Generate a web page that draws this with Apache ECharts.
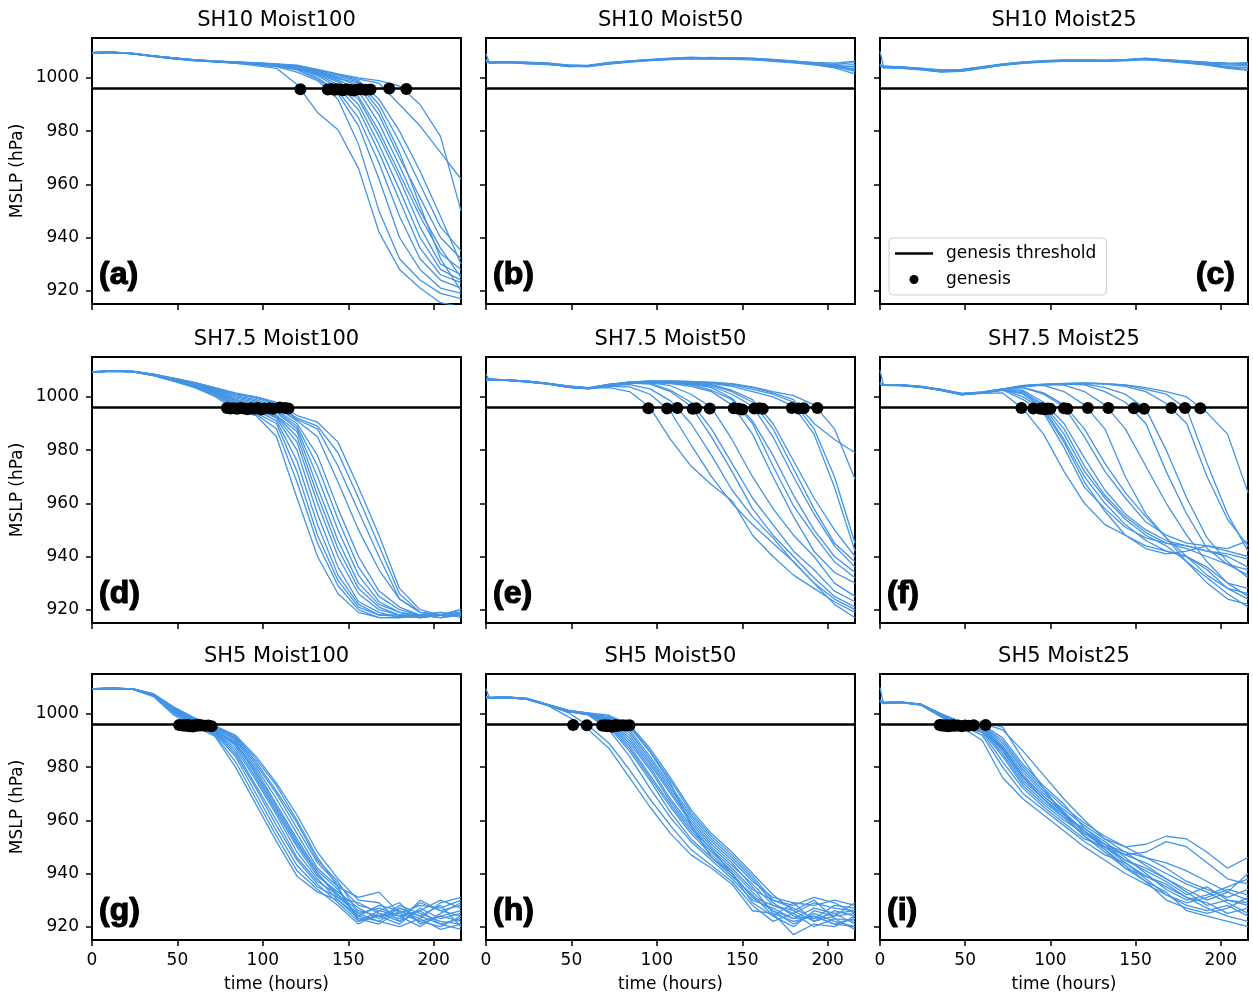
<!DOCTYPE html>
<html>
<head>
<meta charset="utf-8">
<title>MSLP ensemble</title>
<script src="https://cdn.jsdelivr.net/npm/echarts@6/dist/echarts.min.js"></script>
<style>
  html, body { margin: 0; padding: 0; background: #fff; }
  #main { width: 1253px; height: 996px; }
</style>
</head>
<body>
<div id="main"></div>
<script>
// time axis (hours) shared by every ensemble member
const TIME = [0, 2, 12, 24, 36, 48, 60, 72, 84, 96, 108, 120, 132, 144, 156, 168, 180, 192, 204, 216]
const THRESHOLD = 996
const X_TICKS = [0, 50, 100, 150, 200]
const Y_TICKS = [920, 940, 960, 980, 1000]
const TITLES = ['SH10 Moist100', 'SH10 Moist50', 'SH10 Moist25', 'SH7.5 Moist100', 'SH7.5 Moist50', 'SH7.5 Moist25', 'SH5 Moist100', 'SH5 Moist50', 'SH5 Moist25']
const TAGS = ['(a)', '(b)', '(c)', '(d)', '(e)', '(f)', '(g)', '(h)', '(i)']

const LINES_A = [
  [1009.3, 1009.5, 1009.6, 1009.0, 1008.1, 1007.2, 1006.4, 1006.0, 1005.5, 1004.6, 1003.6, 997.5, 987.0, 980.5, 966.0, 942.0, 928.0, 921.0, 915.5, 914.0],
  [1009.4, 1009.6, 1009.7, 1009.1, 1008.2, 1007.4, 1006.6, 1006.1, 1005.7, 1005.0, 1004.2, 1002.2, 999.0, 992.0, 975.0, 950.0, 932.0, 924.0, 919.0, 917.0],
  [1009.2, 1009.4, 1009.5, 1009.2, 1008.3, 1007.5, 1006.8, 1006.3, 1005.9, 1005.2, 1004.5, 1003.0, 999.5, 994.0, 982.0, 962.0, 940.0, 928.0, 921.0, 919.0],
  [1009.3, 1009.5, 1009.7, 1009.0, 1008.0, 1007.3, 1006.5, 1006.0, 1005.6, 1005.0, 1004.3, 1003.2, 1000.0, 995.0, 985.0, 968.0, 948.0, 932.0, 924.0, 921.0],
  [1009.4, 1009.6, 1009.6, 1009.1, 1008.2, 1007.4, 1006.7, 1006.2, 1005.8, 1005.1, 1004.6, 1003.6, 1000.8, 996.5, 988.0, 972.0, 954.0, 936.0, 926.0, 923.0],
  [1009.3, 1009.4, 1009.5, 1009.0, 1008.1, 1007.2, 1006.6, 1006.1, 1005.7, 1005.3, 1004.8, 1003.8, 1001.2, 997.5, 990.0, 975.0, 958.0, 940.0, 928.0, 924.0],
  [1009.2, 1009.5, 1009.7, 1009.2, 1008.3, 1007.5, 1006.8, 1006.3, 1005.9, 1005.2, 1004.5, 1003.5, 1001.5, 998.5, 992.0, 978.0, 962.0, 944.0, 930.0, 926.0],
  [1009.4, 1009.6, 1009.6, 1009.1, 1008.2, 1007.4, 1006.7, 1006.2, 1005.8, 1005.2, 1004.7, 1004.0, 1001.8, 999.0, 993.0, 980.0, 964.0, 948.0, 934.0, 928.0],
  [1009.3, 1009.5, 1009.6, 1009.2, 1008.2, 1007.3, 1006.6, 1006.1, 1005.7, 1005.4, 1004.9, 1004.1, 1002.0, 999.5, 995.0, 983.0, 967.0, 950.0, 936.0, 925.0],
  [1009.3, 1009.4, 1009.7, 1009.1, 1008.3, 1007.5, 1006.9, 1006.4, 1006.0, 1005.5, 1005.0, 1004.2, 1002.3, 1000.0, 997.0, 986.0, 970.0, 955.0, 940.0, 932.0],
  [1009.4, 1009.6, 1009.6, 1009.2, 1008.1, 1007.4, 1006.7, 1006.2, 1005.9, 1005.5, 1005.1, 1004.3, 1002.5, 1000.5, 998.5, 990.0, 976.0, 960.0, 944.0, 935.0],
  [1009.2, 1009.4, 1009.5, 1009.0, 1008.2, 1007.3, 1006.6, 1006.1, 1005.8, 1005.3, 1004.9, 1004.5, 1002.8, 1001.0, 999.0, 992.0, 980.0, 965.0, 948.0, 930.0],
  [1009.3, 1009.5, 1009.7, 1009.2, 1008.3, 1007.5, 1006.8, 1006.3, 1006.0, 1005.6, 1005.2, 1004.6, 1003.0, 1001.2, 999.5, 998.0, 990.0, 982.0, 972.0, 962.0],
  [1009.4, 1009.5, 1009.6, 1009.1, 1008.2, 1007.4, 1006.7, 1006.3, 1005.9, 1005.7, 1005.3, 1004.8, 1003.2, 1001.5, 1000.0, 999.0, 997.0, 990.0, 978.0, 950.0],
  [1009.3, 1009.4, 1009.6, 1009.1, 1008.1, 1007.3, 1006.6, 1006.2, 1005.8, 1005.3, 1004.8, 1004.0, 1002.2, 999.8, 998.0, 988.0, 972.0, 952.0, 932.0, 920.0]
]
const GENESIS_A = [[122, 995.7], [138, 995.6], [140, 995.8], [142, 995.5], [143, 995.7], [145, 995.6], [147, 995.4], [149, 995.7], [151, 995.5], [153, 995.3], [155, 995.6], [157, 995.7], [160, 995.5], [163, 995.6], [174, 996.0], [184, 995.8]]

const LINES_B = [
  [1009.0, 1005.8, 1006.0, 1005.9, 1005.5, 1004.9, 1004.6, 1005.6, 1006.3, 1006.9, 1007.3, 1007.6, 1007.5, 1007.3, 1007.1, 1006.7, 1006.2, 1005.8, 1005.5, 1006.3],
  [1006.5, 1005.5, 1005.7, 1005.6, 1005.2, 1004.5, 1004.3, 1005.3, 1006.0, 1006.6, 1007.0, 1007.3, 1007.2, 1007.6, 1007.3, 1007.0, 1006.4, 1005.6, 1005.0, 1005.8],
  [1006.0, 1005.9, 1005.9, 1005.4, 1005.3, 1004.2, 1004.5, 1005.5, 1006.2, 1006.7, 1007.1, 1007.5, 1007.7, 1007.4, 1007.2, 1006.5, 1005.9, 1005.2, 1004.6, 1005.0],
  [1007.0, 1005.6, 1006.1, 1005.7, 1005.6, 1004.7, 1004.8, 1005.8, 1006.4, 1007.0, 1007.4, 1007.8, 1007.4, 1007.1, 1007.0, 1006.8, 1006.1, 1005.4, 1004.3, 1004.2],
  [1006.2, 1005.7, 1005.8, 1005.3, 1005.0, 1004.4, 1004.2, 1005.2, 1005.9, 1006.5, 1006.9, 1007.2, 1007.1, 1007.2, 1006.9, 1006.2, 1005.7, 1004.9, 1004.0, 1003.5],
  [1006.8, 1005.9, 1006.0, 1005.6, 1005.4, 1004.6, 1004.7, 1005.4, 1006.1, 1006.8, 1007.2, 1007.4, 1007.6, 1007.5, 1007.4, 1006.9, 1006.3, 1005.5, 1004.2, 1002.5],
  [1006.4, 1005.8, 1005.9, 1005.5, 1005.1, 1004.3, 1004.6, 1005.7, 1006.3, 1006.8, 1007.1, 1007.5, 1007.3, 1007.0, 1006.8, 1006.4, 1005.8, 1005.0, 1003.8, 1001.5],
  [1006.6, 1005.7, 1006.0, 1005.8, 1005.3, 1004.8, 1004.4, 1005.4, 1006.0, 1006.6, 1007.2, 1007.6, 1007.4, 1007.3, 1007.0, 1006.6, 1006.0, 1005.3, 1004.5, 1003.0]
]
const GENESIS_B = []

const LINES_C = [
  [1010.0, 1004.5, 1004.0, 1003.4, 1002.6, 1002.8, 1004.0, 1005.2, 1005.9, 1006.4, 1006.7, 1006.6, 1006.5, 1006.8, 1007.2, 1006.6, 1006.2, 1005.8, 1005.6, 1005.5],
  [1004.8, 1003.8, 1003.6, 1003.0, 1002.2, 1002.5, 1003.6, 1004.8, 1005.6, 1006.0, 1006.2, 1006.3, 1006.2, 1006.4, 1006.9, 1006.3, 1005.9, 1005.4, 1004.8, 1004.6],
  [1005.0, 1004.2, 1004.2, 1003.6, 1002.9, 1003.1, 1004.2, 1005.3, 1006.0, 1006.5, 1006.8, 1006.8, 1006.7, 1006.9, 1007.4, 1006.8, 1006.3, 1005.6, 1005.2, 1005.8],
  [1004.5, 1004.0, 1003.9, 1003.2, 1002.4, 1002.7, 1003.8, 1004.9, 1005.7, 1006.1, 1006.4, 1006.5, 1006.3, 1006.6, 1007.0, 1006.5, 1005.7, 1005.0, 1004.2, 1003.8],
  [1004.9, 1004.4, 1004.1, 1003.5, 1002.8, 1003.0, 1003.9, 1005.0, 1005.8, 1006.3, 1006.6, 1006.7, 1006.6, 1006.9, 1007.3, 1006.7, 1006.0, 1005.2, 1004.0, 1003.0],
  [1005.2, 1003.9, 1003.8, 1003.3, 1002.5, 1002.6, 1003.7, 1004.7, 1005.5, 1005.9, 1006.3, 1006.4, 1006.4, 1006.7, 1007.1, 1006.4, 1005.8, 1004.9, 1003.9, 1004.0],
  [1004.6, 1004.3, 1004.0, 1003.7, 1003.0, 1003.2, 1004.1, 1005.1, 1005.8, 1006.2, 1006.5, 1006.6, 1006.5, 1006.8, 1007.1, 1006.9, 1006.4, 1005.9, 1005.3, 1005.0],
  [1004.7, 1004.1, 1003.7, 1003.1, 1002.3, 1002.9, 1003.9, 1004.9, 1005.7, 1006.2, 1006.6, 1006.6, 1006.6, 1006.7, 1007.0, 1006.2, 1005.6, 1004.8, 1003.6, 1002.8]
]
const GENESIS_C = []

const LINES_D = [
  [1009.3, 1009.4, 1009.7, 1009.4, 1008.0, 1005.8, 1003.5, 1000.2, 995.0, 993.0, 985.0, 962.0, 940.0, 926.0, 919.0, 917.0, 917.0, 917.5, 918.0, 918.5],
  [1009.4, 1009.5, 1009.8, 1009.5, 1008.1, 1006.0, 1003.8, 1000.6, 996.0, 993.5, 988.0, 968.0, 945.0, 929.0, 920.0, 917.0, 917.0, 918.0, 917.0, 919.0],
  [1009.3, 1009.4, 1009.7, 1009.5, 1008.2, 1006.1, 1004.0, 1001.0, 996.5, 994.0, 990.0, 972.0, 948.0, 931.0, 921.0, 918.0, 917.5, 917.0, 918.0, 920.0],
  [1009.2, 1009.3, 1009.6, 1009.4, 1008.0, 1005.9, 1003.9, 1001.2, 997.0, 995.0, 991.0, 976.0, 952.0, 933.0, 922.0, 918.0, 918.0, 917.0, 918.0, 918.0],
  [1009.4, 1009.5, 1009.7, 1009.5, 1008.3, 1006.3, 1004.2, 1001.5, 997.5, 995.5, 992.0, 980.0, 956.0, 936.0, 923.0, 919.0, 917.0, 918.0, 919.0, 917.0],
  [1009.3, 1009.4, 1009.8, 1009.6, 1008.2, 1006.2, 1004.3, 1001.8, 998.0, 996.0, 992.5, 983.0, 960.0, 940.0, 926.0, 920.0, 918.0, 917.0, 918.0, 919.0],
  [1009.3, 1009.5, 1009.7, 1009.4, 1008.1, 1006.4, 1004.5, 1002.0, 998.5, 996.2, 993.0, 985.0, 963.0, 943.0, 928.0, 921.0, 918.0, 918.0, 917.0, 918.0],
  [1009.4, 1009.5, 1009.8, 1009.6, 1008.4, 1006.5, 1004.6, 1002.2, 999.0, 997.0, 993.0, 987.0, 966.0, 946.0, 930.0, 922.0, 919.0, 917.0, 918.0, 920.0],
  [1009.3, 1009.4, 1009.6, 1009.5, 1008.3, 1006.3, 1004.4, 1002.4, 999.0, 997.5, 994.0, 988.0, 970.0, 950.0, 933.0, 923.0, 919.0, 918.0, 919.0, 918.0],
  [1009.2, 1009.3, 1009.7, 1009.4, 1008.2, 1006.6, 1004.8, 1002.6, 999.5, 998.0, 994.5, 989.0, 974.0, 954.0, 936.0, 925.0, 920.0, 918.0, 918.0, 919.0],
  [1009.4, 1009.5, 1009.8, 1009.5, 1008.4, 1006.7, 1005.0, 1002.8, 1000.0, 998.5, 995.0, 990.0, 978.0, 958.0, 940.0, 927.0, 921.0, 918.0, 917.0, 918.0],
  [1009.3, 1009.4, 1009.7, 1009.6, 1008.5, 1006.8, 1005.1, 1003.0, 1000.5, 999.0, 996.0, 991.0, 985.0, 968.0, 950.0, 935.0, 924.0, 919.0, 918.0, 918.5],
  [1009.4, 1009.5, 1009.8, 1009.6, 1008.6, 1006.9, 1005.3, 1003.2, 1001.0, 999.5, 997.0, 991.5, 988.0, 974.0, 957.0, 940.0, 924.0, 919.0, 918.0, 919.0],
  [1009.3, 1009.4, 1009.7, 1009.5, 1008.5, 1007.0, 1005.4, 1003.4, 1001.0, 1000.0, 997.5, 992.0, 989.0, 979.0, 962.0, 944.0, 926.0, 919.0, 918.0, 920.0],
  [1009.4, 1009.5, 1009.8, 1009.7, 1008.6, 1007.1, 1005.5, 1003.5, 1001.5, 1000.0, 998.0, 993.0, 990.5, 983.0, 966.0, 948.0, 928.0, 920.0, 918.0, 919.0]
]
const GENESIS_D = [[79, 995.8], [81, 995.6], [83, 995.7], [85, 995.5], [87, 995.8], [89, 995.6], [91, 995.4], [93, 995.7], [95, 995.5], [97, 995.8], [99, 995.3], [101, 995.6], [104, 995.7], [106, 995.5], [110, 996.0], [113, 995.8], [115, 995.6]]

const LINES_E = [
  [1006.5, 1006.6, 1006.3, 1005.8, 1005.0, 1003.8, 1003.2, 1003.5, 1002.0, 996.0, 984.0, 974.0, 967.0, 961.0, 948.0, 940.0, 933.0, 928.0, 923.0, 919.0],
  [1008.5, 1006.4, 1006.2, 1005.6, 1004.8, 1003.6, 1003.0, 1004.0, 1003.8, 1001.0, 994.5, 982.0, 970.0, 960.0, 952.0, 945.0, 938.0, 930.0, 924.0, 920.0],
  [1006.8, 1006.7, 1006.4, 1005.9, 1005.1, 1004.0, 1003.4, 1004.5, 1004.6, 1003.0, 998.5, 990.0, 978.0, 965.0, 955.0, 947.0, 938.0, 930.0, 922.0, 917.0],
  [1006.4, 1006.5, 1006.2, 1005.7, 1004.9, 1003.7, 1003.1, 1004.6, 1005.2, 1004.8, 1002.0, 996.5, 985.0, 972.0, 958.0, 948.0, 940.0, 932.0, 925.0, 921.0],
  [1006.7, 1006.6, 1006.3, 1005.8, 1005.0, 1003.9, 1003.3, 1004.8, 1005.4, 1005.2, 1002.5, 998.0, 988.0, 975.0, 962.0, 952.0, 942.0, 935.0, 927.0, 923.0],
  [1006.5, 1006.5, 1006.4, 1005.9, 1005.1, 1003.8, 1003.2, 1004.3, 1005.0, 1005.4, 1004.2, 1001.0, 996.0, 984.0, 970.0, 958.0, 948.0, 940.0, 930.0, 925.0],
  [1006.6, 1006.6, 1006.3, 1005.7, 1004.9, 1003.7, 1003.1, 1004.2, 1005.1, 1005.5, 1005.0, 1004.0, 1002.0, 997.0, 986.0, 970.0, 955.0, 942.0, 934.0, 930.0],
  [1006.4, 1006.5, 1006.2, 1005.8, 1005.0, 1003.9, 1003.3, 1004.4, 1005.3, 1005.7, 1005.3, 1004.5, 1002.5, 999.0, 990.0, 974.0, 959.0, 948.0, 938.0, 932.0],
  [1006.7, 1006.7, 1006.4, 1005.9, 1005.1, 1004.0, 1003.4, 1004.6, 1005.5, 1005.8, 1005.5, 1004.8, 1003.5, 999.5, 991.0, 978.0, 963.0, 950.0, 940.0, 934.0],
  [1006.5, 1006.6, 1006.3, 1005.8, 1005.0, 1003.8, 1003.2, 1004.3, 1005.2, 1005.6, 1005.2, 1004.9, 1004.0, 1001.0, 996.5, 985.0, 970.0, 956.0, 944.0, 936.0],
  [1006.6, 1006.5, 1006.2, 1005.7, 1004.9, 1003.6, 1003.0, 1004.1, 1005.0, 1005.3, 1005.4, 1005.0, 1004.4, 1002.0, 998.0, 988.0, 973.0, 958.0, 945.0, 938.0],
  [1006.8, 1006.7, 1006.4, 1005.9, 1005.2, 1004.1, 1003.5, 1004.7, 1005.6, 1005.9, 1005.7, 1005.2, 1004.6, 1002.5, 999.0, 990.0, 976.0, 962.0, 950.0, 940.0],
  [1006.5, 1006.6, 1006.3, 1005.8, 1005.0, 1003.9, 1003.3, 1004.5, 1005.3, 1005.6, 1005.6, 1005.4, 1005.0, 1004.0, 1002.0, 1000.0, 996.5, 986.0, 966.0, 942.0],
  [1006.6, 1006.6, 1006.3, 1005.7, 1004.9, 1003.7, 1003.1, 1004.3, 1005.1, 1005.5, 1005.8, 1005.6, 1005.3, 1004.5, 1002.8, 1001.0, 998.0, 988.0, 970.0, 945.0],
  [1006.4, 1006.5, 1006.2, 1005.8, 1005.0, 1003.8, 1003.2, 1004.5, 1005.4, 1005.8, 1005.9, 1005.8, 1005.4, 1004.8, 1003.5, 1001.5, 999.0, 990.0, 984.0, 979.0],
  [1006.7, 1006.7, 1006.4, 1005.9, 1005.1, 1004.0, 1003.4, 1004.6, 1005.5, 1006.0, 1006.0, 1005.7, 1005.5, 1005.0, 1003.8, 1002.0, 1000.5, 997.0, 988.0, 969.0]
]
const GENESIS_E = [[95, 995.7], [106, 995.6], [112, 995.8], [121, 995.5], [123, 995.7], [131, 995.6], [145, 995.7], [148, 995.5], [150, 995.3], [157, 995.6], [160, 995.7], [162, 995.5], [179, 995.8], [183, 995.6], [186, 995.7], [194, 995.8]]

const LINES_F = [
  [1010.0, 1004.5, 1004.3, 1003.7, 1002.5, 1000.8, 1001.3, 1001.5, 995.5, 986.0, 972.0, 960.0, 952.0, 948.0, 944.0, 942.0, 940.0, 936.0, 930.0, 928.0],
  [1005.0, 1004.6, 1004.5, 1003.9, 1002.7, 1001.1, 1001.5, 1002.6, 999.0, 994.0, 981.0, 966.0, 958.0, 951.0, 947.0, 945.0, 944.0, 942.0, 941.0, 939.0],
  [1005.2, 1004.4, 1004.3, 1003.7, 1002.6, 1001.0, 1001.7, 1002.8, 1001.0, 995.5, 984.0, 970.0, 960.0, 952.0, 946.0, 942.0, 940.0, 935.0, 928.0, 924.0],
  [1004.8, 1004.5, 1004.4, 1003.8, 1002.4, 1000.9, 1001.4, 1002.5, 1001.5, 996.3, 986.0, 972.0, 962.0, 954.0, 948.0, 944.0, 938.0, 932.0, 926.0, 921.0],
  [1005.1, 1004.7, 1004.5, 1003.9, 1002.7, 1001.2, 1001.8, 1002.9, 1002.0, 997.0, 988.0, 974.0, 963.0, 955.0, 949.0, 945.0, 943.0, 940.0, 937.0, 933.0],
  [1004.9, 1004.3, 1004.2, 1003.6, 1002.5, 1000.8, 1001.6, 1002.7, 1002.5, 998.0, 990.0, 977.0, 965.0, 956.0, 950.0, 946.0, 944.0, 942.0, 940.0, 936.0],
  [1005.3, 1004.6, 1004.5, 1003.9, 1002.8, 1001.2, 1001.9, 1003.0, 1003.5, 1001.0, 996.3, 985.0, 972.0, 962.0, 953.0, 948.0, 945.0, 944.0, 942.0, 940.0],
  [1004.7, 1004.4, 1004.3, 1003.7, 1002.6, 1001.0, 1001.5, 1002.7, 1003.6, 1001.5, 997.0, 988.0, 975.0, 964.0, 955.0, 947.0, 940.0, 933.0, 928.0, 926.0],
  [1005.0, 1004.5, 1004.4, 1003.8, 1002.7, 1001.1, 1001.7, 1002.9, 1004.0, 1004.3, 1002.0, 997.0, 988.0, 970.0, 956.0, 947.0, 938.0, 930.0, 924.0, 922.0],
  [1005.1, 1004.6, 1004.5, 1003.9, 1002.6, 1000.9, 1001.6, 1002.8, 1004.1, 1004.6, 1004.4, 1002.0, 997.0, 988.0, 974.0, 960.0, 948.0, 938.0, 930.0, 925.0],
  [1004.9, 1004.4, 1004.3, 1003.7, 1002.5, 1001.0, 1001.5, 1002.6, 1003.9, 1004.5, 1004.8, 1004.5, 1002.0, 998.0, 990.0, 972.0, 956.0, 943.0, 937.0, 935.0],
  [1005.2, 1004.7, 1004.6, 1004.0, 1002.8, 1001.3, 1001.8, 1003.0, 1004.3, 1004.8, 1005.0, 1004.9, 1003.5, 1001.0, 995.5, 980.0, 962.0, 947.0, 938.0, 932.0],
  [1004.8, 1004.5, 1004.4, 1003.8, 1002.6, 1001.0, 1001.6, 1002.7, 1004.0, 1004.5, 1004.9, 1005.0, 1004.8, 1004.0, 1002.0, 997.5, 990.0, 970.0, 954.0, 944.0],
  [1005.0, 1004.6, 1004.5, 1003.9, 1002.7, 1001.2, 1001.7, 1002.9, 1004.2, 1004.7, 1005.1, 1005.3, 1005.0, 1004.4, 1002.8, 1001.0, 995.5, 975.0, 956.0, 942.0],
  [1005.1, 1004.5, 1004.4, 1003.8, 1002.6, 1001.1, 1001.6, 1002.8, 1004.1, 1004.6, 1005.0, 1005.2, 1005.0, 1004.5, 1003.5, 1002.0, 1000.0, 994.0, 986.0, 964.0],
  [1004.9, 1004.6, 1004.5, 1003.9, 1002.7, 1001.0, 1001.6, 1002.7, 1000.0, 995.0, 983.0, 968.0, 957.0, 948.0, 943.0, 941.0, 942.0, 944.0, 943.0, 946.0]
]
const GENESIS_F = [[83, 995.8], [90, 995.6], [94, 995.5], [95, 995.7], [96.5, 995.4], [98.5, 995.6], [100, 995.5], [108, 995.7], [110, 995.5], [122, 995.8], [134, 995.8], [149, 995.7], [155, 995.5], [171, 995.8], [179, 995.8], [188, 995.7]]

const LINES_G = [
  [1009.3, 1009.4, 1009.6, 1009.2, 1006.5, 999.5, 995.5, 991.5, 980.0, 966.0, 952.0, 939.0, 933.0, 930.0, 923.0, 924.0, 925.0, 922.0, 924.0, 926.0],
  [1009.4, 1009.5, 1009.7, 1009.3, 1006.8, 1000.0, 996.0, 992.0, 982.0, 968.0, 954.0, 941.0, 934.0, 928.0, 921.0, 925.0, 922.0, 926.0, 921.0, 923.0],
  [1009.2, 1009.3, 1009.6, 1009.2, 1006.9, 1000.5, 996.3, 992.5, 984.0, 970.0, 956.0, 943.0, 935.0, 931.0, 925.0, 922.0, 927.0, 924.0, 928.0, 920.0],
  [1009.3, 1009.4, 1009.7, 1009.4, 1007.1, 1000.8, 996.5, 993.0, 985.0, 972.0, 958.0, 945.0, 936.0, 929.0, 922.0, 926.0, 924.0, 920.0, 925.0, 929.0],
  [1009.4, 1009.5, 1009.6, 1009.3, 1007.0, 1001.0, 996.8, 993.2, 986.0, 973.0, 960.0, 946.0, 937.0, 932.0, 926.0, 924.0, 921.0, 927.0, 923.0, 925.0],
  [1009.3, 1009.4, 1009.7, 1009.4, 1007.2, 1001.2, 997.0, 993.5, 987.0, 975.0, 962.0, 948.0, 938.0, 930.0, 924.0, 928.0, 926.0, 923.0, 929.0, 931.0],
  [1009.2, 1009.3, 1009.5, 1009.2, 1007.0, 1001.4, 997.2, 993.8, 988.0, 976.0, 963.0, 950.0, 939.0, 933.0, 927.0, 923.0, 928.0, 925.0, 922.0, 921.0],
  [1009.4, 1009.5, 1009.7, 1009.3, 1007.3, 1001.5, 997.4, 994.0, 988.5, 978.0, 965.0, 952.0, 940.0, 931.0, 929.0, 925.0, 923.0, 929.0, 926.0, 928.0],
  [1009.3, 1009.4, 1009.6, 1009.3, 1007.1, 1001.6, 997.5, 994.2, 989.0, 979.0, 966.0, 953.0, 941.0, 934.0, 923.0, 921.0, 926.0, 922.0, 920.0, 924.0],
  [1009.3, 1009.5, 1009.7, 1009.4, 1007.4, 1001.8, 997.7, 994.5, 990.0, 980.0, 968.0, 955.0, 942.0, 935.0, 931.0, 933.0, 925.0, 928.0, 927.0, 930.0],
  [1009.2, 1009.3, 1009.5, 1009.2, 1007.2, 1002.0, 997.9, 994.8, 990.5, 981.0, 970.0, 957.0, 944.0, 936.0, 928.0, 926.0, 929.0, 921.0, 924.0, 922.0],
  [1009.4, 1009.5, 1009.7, 1009.4, 1007.5, 1002.2, 998.1, 995.0, 991.0, 982.0, 971.0, 959.0, 945.0, 937.0, 925.0, 927.0, 924.0, 926.0, 930.0, 927.0],
  [1009.3, 1009.4, 1009.6, 1009.3, 1007.3, 1002.4, 998.3, 995.2, 991.5, 983.0, 973.0, 960.0, 946.0, 935.0, 922.0, 924.0, 927.0, 924.0, 921.0, 919.0],
  [1009.3, 1009.4, 1009.7, 1009.4, 1007.6, 1002.6, 998.5, 995.5, 992.0, 984.0, 974.0, 962.0, 948.0, 938.0, 930.0, 929.0, 922.0, 930.0, 926.0, 924.0],
  [1009.4, 1009.5, 1009.6, 1009.3, 1007.1, 1001.3, 997.0, 993.4, 989.5, 977.0, 964.0, 951.0, 940.0, 932.0, 924.0, 922.0, 920.0, 923.0, 919.0, 921.0]
]
const GENESIS_G = [[51, 995.8], [53, 995.6], [54, 995.7], [55, 995.5], [56, 995.8], [57, 995.4], [58, 995.6], [59, 995.3], [60, 995.7], [61, 995.5], [62, 995.8], [63, 995.6], [64, 995.7], [66, 995.5], [68, 995.6], [70, 995.4]]

const LINES_H = [
  [1009.5, 1006.0, 1006.3, 1005.7, 1003.2, 999.0, 994.0, 987.0, 976.0, 965.0, 955.0, 947.0, 942.0, 936.0, 926.0, 925.0, 922.0, 924.0, 921.0, 923.0],
  [1006.2, 1006.1, 1006.2, 1005.6, 1003.4, 1000.5, 995.5, 989.0, 979.0, 968.0, 958.0, 949.0, 943.0, 937.0, 928.0, 922.0, 925.0, 920.0, 923.0, 919.0],
  [1006.0, 1005.9, 1006.1, 1005.5, 1003.3, 1001.0, 999.5, 994.0, 984.0, 972.0, 961.0, 952.0, 945.0, 938.0, 930.0, 927.0, 923.0, 927.0, 925.0, 921.0],
  [1006.3, 1006.1, 1006.3, 1005.7, 1003.5, 1001.2, 999.8, 995.0, 986.0, 975.0, 963.0, 953.0, 946.0, 939.0, 932.0, 924.0, 929.0, 922.0, 926.0, 924.0],
  [1006.1, 1006.0, 1006.2, 1005.6, 1003.3, 1001.0, 1000.0, 995.5, 987.0, 976.0, 965.0, 955.0, 947.0, 940.0, 931.0, 928.0, 925.0, 929.0, 927.0, 926.0],
  [1006.4, 1006.2, 1006.4, 1005.8, 1003.6, 1001.3, 1000.2, 996.0, 988.0, 977.0, 966.0, 956.0, 948.0, 941.0, 933.0, 926.0, 921.0, 925.0, 922.0, 920.0],
  [1006.0, 1005.9, 1006.1, 1005.5, 1003.2, 1000.9, 999.7, 996.5, 989.0, 979.0, 967.0, 957.0, 949.0, 942.0, 934.0, 930.0, 927.0, 923.0, 928.0, 927.0],
  [1006.2, 1006.0, 1006.2, 1005.6, 1003.4, 1001.1, 1000.0, 997.0, 990.0, 980.0, 968.0, 958.0, 949.0, 940.0, 929.0, 924.0, 920.0, 926.0, 924.0, 925.0],
  [1006.3, 1006.1, 1006.3, 1005.7, 1003.5, 1001.2, 1000.1, 997.0, 991.0, 981.0, 970.0, 959.0, 950.0, 943.0, 936.0, 928.0, 926.0, 930.0, 923.0, 922.0],
  [1006.1, 1006.0, 1006.2, 1005.6, 1003.3, 1001.0, 999.9, 997.5, 992.0, 982.0, 971.0, 960.0, 951.0, 944.0, 935.0, 925.0, 917.0, 921.0, 920.0, 924.0],
  [1006.4, 1006.2, 1006.4, 1005.8, 1003.6, 1001.4, 1000.3, 998.0, 993.0, 983.0, 972.0, 961.0, 952.0, 945.0, 937.0, 931.0, 929.0, 928.0, 930.0, 928.0],
  [1006.0, 1005.9, 1006.1, 1005.5, 1003.2, 1000.8, 999.8, 998.0, 994.0, 984.0, 973.0, 962.0, 953.0, 946.0, 938.0, 929.0, 924.0, 923.0, 925.0, 926.0],
  [1006.2, 1006.1, 1006.3, 1005.7, 1003.4, 1001.1, 1000.1, 998.5, 995.0, 985.6, 974.0, 958.0, 946.0, 940.0, 931.0, 926.0, 923.0, 924.0, 921.0, 920.0],
  [1006.3, 1006.1, 1006.3, 1005.7, 1003.5, 1001.3, 1000.2, 999.0, 995.5, 986.0, 975.0, 963.0, 954.0, 947.0, 939.0, 930.0, 928.0, 931.0, 929.0, 925.0],
  [1006.1, 1006.0, 1006.2, 1005.6, 1003.4, 1001.2, 1000.4, 999.5, 996.0, 987.0, 976.0, 964.0, 955.0, 948.0, 940.0, 932.0, 926.0, 922.0, 924.0, 929.0]
]
const GENESIS_H = [[51, 995.8], [59, 995.7], [68, 995.6], [69, 995.5], [70, 995.7], [71, 995.4], [72, 995.6], [73, 995.5], [74, 995.2], [75, 995.6], [76, 995.7], [77, 995.5], [78, 995.6], [80, 995.7], [82, 995.6], [84, 995.7]]

const LINES_I = [
  [1010.0, 1004.0, 1004.3, 1003.4, 999.0, 995.0, 990.0, 976.0, 968.0, 962.0, 956.0, 950.0, 945.0, 940.0, 936.0, 932.0, 929.0, 931.0, 934.0, 932.0],
  [1005.0, 1004.2, 1004.4, 1003.6, 999.5, 995.5, 992.0, 980.0, 970.0, 964.0, 958.0, 952.0, 947.0, 944.0, 939.0, 935.0, 931.0, 929.0, 925.0, 927.0],
  [1004.6, 1003.9, 1004.2, 1003.3, 998.8, 995.4, 993.0, 982.0, 972.0, 965.0, 959.0, 953.0, 950.0, 945.0, 942.0, 938.0, 933.0, 928.0, 930.0, 929.0],
  [1004.8, 1004.1, 1004.4, 1003.5, 999.3, 995.8, 993.5, 984.0, 973.0, 966.0, 960.0, 955.0, 951.0, 947.0, 944.0, 940.0, 936.0, 933.0, 929.0, 925.0],
  [1005.2, 1004.3, 1004.5, 1003.7, 999.7, 996.0, 994.0, 985.0, 974.0, 967.0, 961.0, 954.0, 949.0, 942.0, 937.0, 933.0, 926.0, 924.0, 922.0, 920.0],
  [1004.7, 1004.0, 1004.3, 1003.4, 999.1, 995.9, 994.0, 986.0, 975.0, 968.0, 962.0, 956.0, 951.0, 948.0, 946.0, 942.0, 937.0, 934.0, 931.0, 934.0],
  [1005.1, 1004.2, 1004.4, 1003.6, 999.6, 996.1, 994.5, 986.5, 976.0, 968.0, 961.0, 957.0, 952.0, 946.0, 940.0, 934.0, 930.0, 932.0, 935.0, 938.0],
  [1004.9, 1004.1, 1004.3, 1003.5, 999.4, 996.2, 995.0, 987.0, 977.0, 969.0, 963.0, 955.0, 950.0, 947.0, 948.0, 952.0, 950.0, 944.0, 938.0, 936.0],
  [1005.0, 1004.2, 1004.4, 1003.6, 999.8, 996.3, 995.0, 988.0, 978.0, 970.0, 964.0, 958.0, 953.0, 950.0, 951.0, 954.0, 953.0, 948.0, 942.0, 946.0],
  [1004.8, 1004.0, 1004.2, 1003.4, 999.2, 996.0, 995.5, 989.0, 979.0, 971.0, 963.0, 956.0, 950.0, 944.0, 938.0, 932.0, 928.0, 926.0, 928.0, 924.0],
  [1005.1, 1004.3, 1004.5, 1003.7, 999.9, 996.4, 995.5, 990.0, 980.0, 972.0, 965.0, 959.0, 954.0, 950.0, 946.0, 944.0, 941.0, 937.0, 933.0, 930.0],
  [1004.9, 1004.1, 1004.3, 1003.5, 999.5, 996.1, 996.0, 991.0, 981.0, 973.0, 966.0, 957.0, 951.0, 945.0, 941.0, 937.0, 932.0, 935.0, 930.0, 928.0],
  [1005.0, 1004.2, 1004.4, 1003.6, 1000.0, 996.6, 996.5, 994.0, 986.0, 977.0, 968.0, 960.0, 953.0, 948.0, 943.0, 938.0, 934.0, 930.0, 933.0, 940.0],
  [1004.8, 1004.0, 1004.3, 1003.5, 999.9, 997.0, 997.0, 995.0, 983.0, 972.0, 962.0, 954.0, 948.0, 942.0, 939.0, 936.0, 931.0, 927.0, 924.0, 922.0],
  [1005.0, 1004.2, 1004.4, 1003.6, 999.6, 996.2, 995.0, 987.5, 976.5, 969.0, 962.5, 956.0, 949.0, 943.0, 937.0, 930.0, 927.0, 925.0, 927.0, 931.0]
]
const GENESIS_I = [[35, 995.8], [36, 995.6], [37, 995.7], [38, 995.5], [39, 995.7], [40, 995.4], [41, 995.6], [42, 995.5], [43, 995.7], [44, 995.5], [46, 995.6], [48, 995.4], [50, 995.6], [52, 995.5], [55, 995.7], [62, 995.8]]

const PANEL_LINES = [LINES_A, LINES_B, LINES_C, LINES_D, LINES_E, LINES_F, LINES_G, LINES_H, LINES_I]
const PANEL_GENESIS = [GENESIS_A, GENESIS_B, GENESIS_C, GENESIS_D, GENESIS_E, GENESIS_F, GENESIS_G, GENESIS_H, GENESIS_I]

// layout of the 3x3 panel grid (pixels)
const COL_X = [92, 486, 880]
const COL_W = [369, 369, 368]
const ROW_Y = [38, 357, 674]
const ROW_H = 266
const BLUE = '#4394E5'
const FONT = 'DejaVu Sans'

const chart = echarts.init(document.getElementById('main'))

const grids = []
const xAxes = []
const yAxes = []
const series = []
const graphics = []

PANEL_LINES.forEach((lines, i) => {
  const row = Math.floor(i / 3)
  const col = i % 3
  const left = COL_X[col]
  const width = COL_W[col]
  const top = ROW_Y[row]
  grids.push({ left: left, top: top, width: width, height: ROW_H, show: true, borderColor: '#000', borderWidth: 2, backgroundColor: 'transparent' })
  xAxes.push({
    type: 'value',
    gridIndex: i,
    min: 0,
    max: 216,
    axisLine: { show: false },
    splitLine: { show: false },
    axisTick: { show: true, length: 6, customValues: X_TICKS, lineStyle: { color: '#000', width: 1.5 } },
    axisLabel: { show: row === 2, customValues: X_TICKS, margin: 12, color: '#000', fontSize: 17, fontFamily: FONT, formatter: v => String(v) }
  })
  yAxes.push({
    type: 'value',
    gridIndex: i,
    min: 915,
    max: 1015,
    axisLine: { show: false },
    splitLine: { show: false },
    axisTick: { show: true, length: 6, customValues: Y_TICKS, lineStyle: { color: '#000', width: 1.5 } },
    axisLabel: { show: col === 0, customValues: Y_TICKS, margin: 13, color: '#000', fontSize: 17, fontFamily: FONT, formatter: v => String(v) }
  })

  lines.forEach(vals => {
    series.push({
      type: 'line',
      xAxisIndex: i,
      yAxisIndex: i,
      data: TIME.map((t, k) => [t, vals[k]]),
      symbol: 'none',
      silent: true,
      lineStyle: { color: BLUE, width: 1.3 },
      z: 2
    })
  })
  series.push({
    name: 'genesis threshold',
    type: 'line',
    xAxisIndex: i,
    yAxisIndex: i,
    data: [[0, THRESHOLD], [216, THRESHOLD]],
    symbol: 'none',
    silent: true,
    color: '#000',
    lineStyle: { color: '#000', width: 2.5 },
    z: 3
  })
  series.push({
    name: 'genesis',
    type: 'scatter',
    xAxisIndex: i,
    yAxisIndex: i,
    data: PANEL_GENESIS[i],
    symbol: 'circle',
    symbolSize: 12,
    silent: true,
    itemStyle: { color: '#000', opacity: 1 },
    z: 4
  })

  // panel title
  graphics.push({
    type: 'text',
    x: left + width / 2,
    y: top - 17.5,
    style: { text: TITLES[i], align: 'center', verticalAlign: 'middle', fontSize: 21, fontFamily: FONT, fill: '#000' }
  })
  // panel tag, right aligned in (c) because the legend sits on the left
  const tagRight = i === 2
  graphics.push({
    type: 'text',
    x: tagRight ? left + width - 13 : left + 7,
    y: top + 237,
    style: { text: TAGS[i], align: tagRight ? 'right' : 'left', verticalAlign: 'middle', fontSize: 32, fontWeight: 'bold', fontFamily: 'Liberation Sans', fill: '#000', stroke: '#000', lineWidth: 1.2 }
  })
  if (col === 0) {
    graphics.push({
      type: 'text',
      x: 18,
      y: top + ROW_H / 2,
      rotation: Math.PI / 2,
      style: { text: 'MSLP (hPa)', align: 'center', verticalAlign: 'middle', fontSize: 17, fontFamily: FONT, fill: '#000' }
    })
  }
  if (row === 2) {
    graphics.push({
      type: 'text',
      x: left + width / 2,
      y: 985,
      style: { text: 'time (hours)', align: 'center', verticalAlign: 'middle', fontSize: 17, fontFamily: FONT, fill: '#000' }
    })
  }
})

const option = {
  animation: false,
  backgroundColor: '#fff',
  grid: grids,
  xAxis: xAxes,
  yAxis: yAxes,
  series: series,
  graphic: graphics,
  legend: {
    left: 889,
    top: 238,
    orient: 'vertical',
    data: [
      { name: 'genesis threshold', icon: 'path://M0,0 L38,0 L38,2.5 L0,2.5 Z' },
      { name: 'genesis', icon: 'circle' }
    ],
    itemWidth: 38,
    itemHeight: 9,
    itemGap: 9,
    selectedMode: false,
    padding: [7, 10, 7, 6],
    backgroundColor: '#fff',
    borderColor: '#d0d0d0',
    borderWidth: 1,
    borderRadius: 4,
    textStyle: { color: '#000', fontSize: 17, fontFamily: FONT, padding: [0, 0, 0, 8] }
  }
}

chart.setOption(option)
</script>
</body>
</html>
